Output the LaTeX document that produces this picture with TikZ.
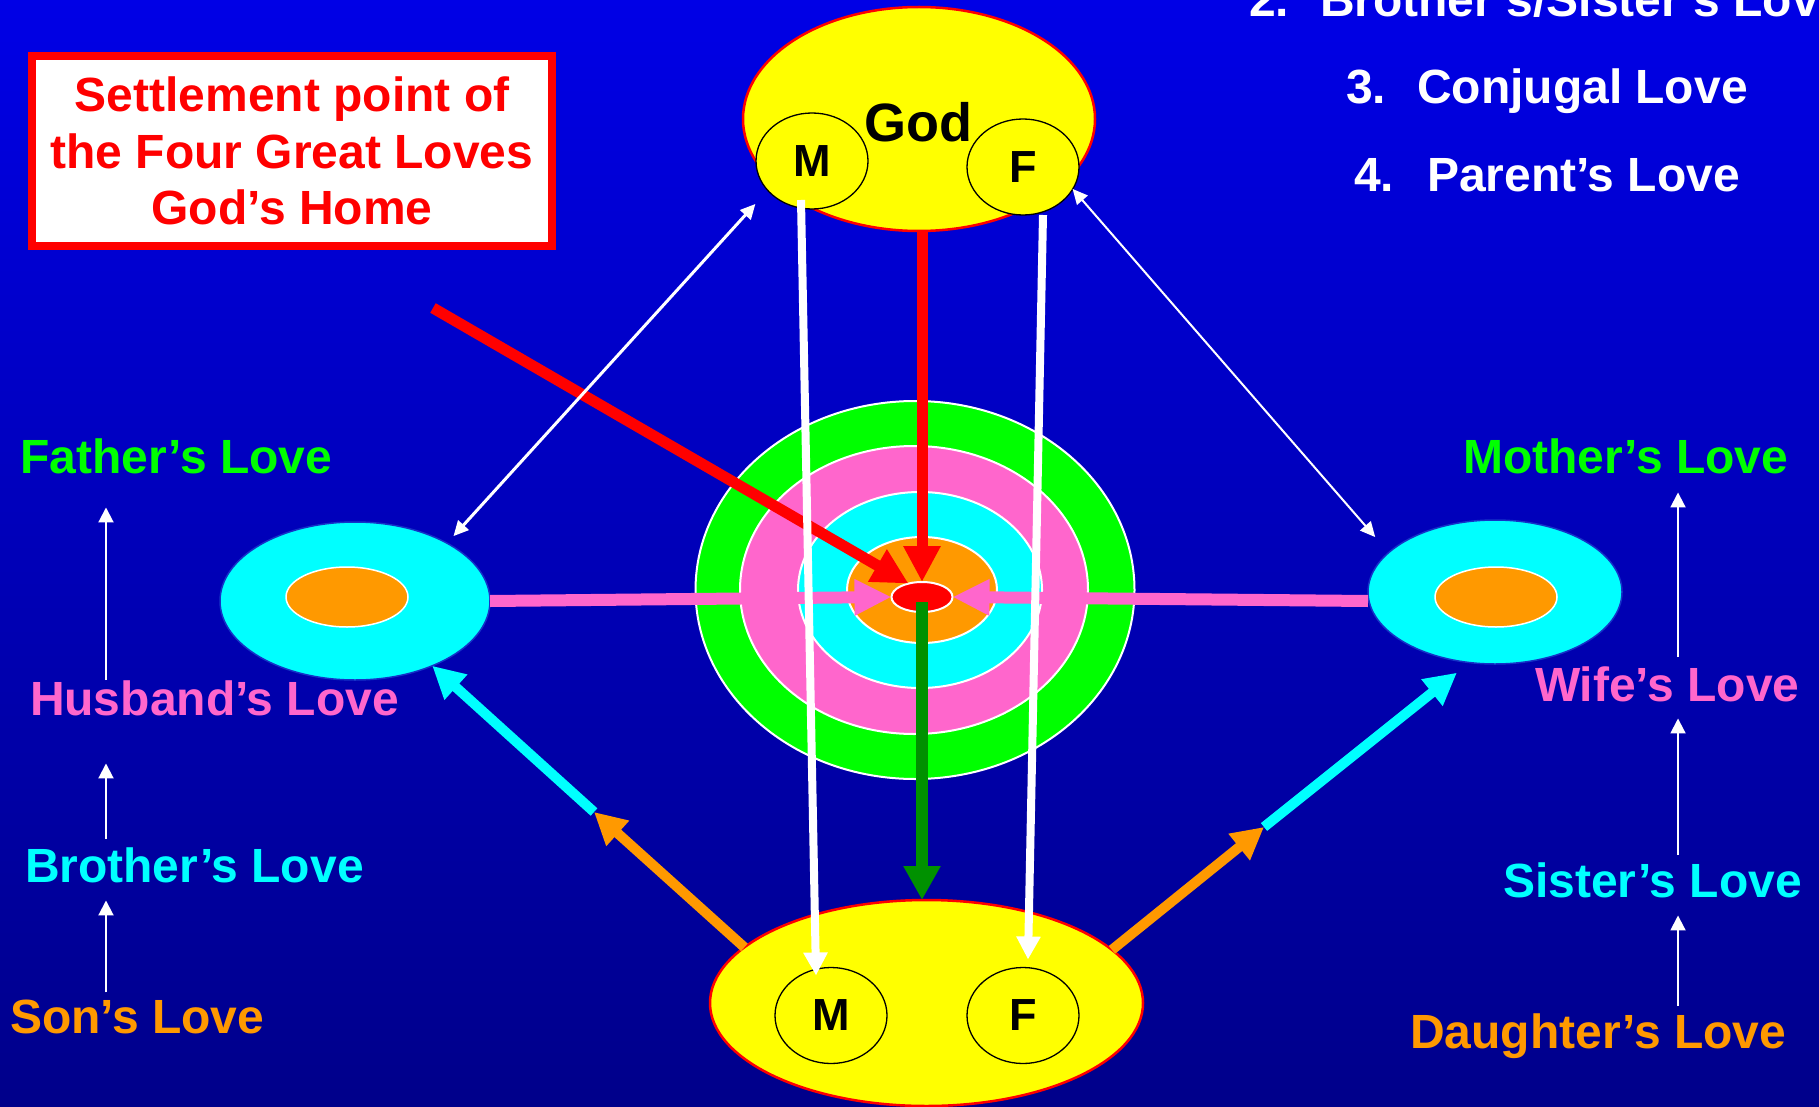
\documentclass[tikz,border=0pt]{standalone}
\usepackage{fontspec}
\setmainfont{Liberation Sans}
\usetikzlibrary{arrows.meta,shapes.geometric}
\definecolor{bgtop}{RGB}{0,0,230}
\definecolor{bgbot}{RGB}{0,0,138}
\definecolor{myyellow}{RGB}{255,255,0}
\definecolor{myred}{RGB}{255,0,0}
\definecolor{mygreen}{RGB}{0,255,0}
\definecolor{mypink}{RGB}{255,102,204}
\definecolor{mycyan}{RGB}{0,255,255}
\definecolor{myorange}{RGB}{255,153,0}
\definecolor{darkgreen}{RGB}{0,145,0}
\definecolor{ellrim}{RGB}{20,50,200}
\begin{document}
\begin{tikzpicture}[x=1pt,y=-1pt,
  every node/.style={inner sep=0pt,outer sep=0pt},
  ell/.style={ellipse,inner sep=0pt,outer sep=0pt},
  lbl/.style={anchor=base west,font=\bfseries\fontsize{48}{56}\selectfont},
  circ/.style={ell,fill=myyellow,draw=black,line width=1.3pt,minimum width=112pt,minimum height=96pt,font=\bfseries\fontsize{45}{50}\selectfont},
  redarr/.style={draw=myred,line width=11pt,-{Triangle[length=36pt,width=35pt]}},
  greenarr/.style={draw=darkgreen,line width=12pt,-{Triangle[length=34pt,width=35pt]}},
  pinkarr/.style={draw=mypink,line width=12pt,-{Triangle[length=37pt,width=34pt]}},
  whitearr/.style={draw=white,line width=8pt,-{Triangle[length=23pt,width=23pt]}},
  orangearr/.style={draw=myorange,line width=10pt,-{Triangle[length=32pt,width=32pt]}},
  cyanarr/.style={draw=mycyan,line width=10pt,-{Triangle[length=32pt,width=32pt]}},
  dblwhite/.style={draw=white,{Triangle[length=15pt,width=14pt]}-{Triangle[length=15pt,width=14pt]}},
  colarr/.style={draw=white,line width=2pt,-{Triangle[length=15pt,width=15pt]}}
]
\useasboundingbox (0,0) rectangle (1819,1107);
\shade[top color=bgtop,bottom color=bgbot] (0,0) rectangle (1819,1107);

% title box
\node[draw=myred,line width=8pt,fill=white,minimum width=520pt,minimum height=190pt,
  align=center,text=myred,font=\bfseries\fontsize{48}{56.5}\selectfont] (box) at (292,151)
  {Settlement point of\\the Four Great Loves\\God’s Home};

% top right list
\node[lbl,text=white] (n2) at (1249,17) {2.};
\node[lbl,text=white] (t2) at (1320,17) {Brother’s/Sister’s Love};
\node[lbl,text=white] (n3) at (1346,104) {3.};
\node[lbl,text=white] (t3) at (1417,104) {Conjugal Love};
\node[lbl,text=white] (n4) at (1354,192) {4.};
\node[lbl,text=white] (t4) at (1427,192) {Parent’s Love};

% target
\node[ell,fill=mygreen,draw=white,line width=2pt,minimum width=439pt,minimum height=378pt] (tgreen) at (915,590) {};
\node[ell,fill=mypink,draw=white,line width=2pt,minimum width=348pt,minimum height=288pt] (tpink) at (914,590) {};
\node[ell,fill=mycyan,draw=white,line width=2pt,minimum width=244pt,minimum height=196pt] (tcyan) at (920,590) {};
\node[ell,fill=myorange,draw=white,line width=2pt,minimum width=150pt,minimum height=106pt] (torange) at (922,590) {};

% side families
\node[ell,fill=mycyan,draw=ellrim,line width=1.5pt,minimum width=270pt,minimum height=158pt] (lcy) at (355,601) {};
\node[ell,fill=myorange,draw=white,line width=1.5pt,minimum width=122pt,minimum height=60pt] (lor) at (347,597) {};
\node[ell,fill=mycyan,draw=ellrim,line width=1.5pt,minimum width=254pt,minimum height=144pt] (rcy) at (1495,592) {};
\node[ell,fill=myorange,draw=white,line width=1.5pt,minimum width=122pt,minimum height=60pt] (ror) at (1496,597) {};

% bottom family
\node[ell,fill=myyellow,draw=myred,line width=2.5pt,minimum width=433pt,minimum height=206pt] (bot) at (926.5,1003) {};
\node[circ] (bM) at (831,1015.5) {M};
\node[circ] (bF) at (1023,1015.5) {F};

% God
\node[ell,fill=myyellow,draw=myred,line width=2.5pt,minimum width=352pt,minimum height=224pt] (god) at (919,119) {};
\node[anchor=base,font=\bfseries\fontsize{54}{60}\selectfont] (godtxt) at (918,142) {God};
\node[circ] (gM) at (812,161) {M};
\node[circ] (gF) at (1023,167) {F};

% centre and pink arrows
\node[ell,fill=myred,draw=white,line width=2pt,minimum width=61pt,minimum height=30pt] (tred) at (922,597) {};
\draw[pinkarr] (lcy.east) -- (tred.west);
\draw[pinkarr] ([yshift=-9pt]rcy.west) -- (tred.east);

% red arrows
\coordinate (rstart) at (433,308);
\draw[redarr] (rstart) -- (tred.135);
\draw[redarr] (god.south -| tred.north) -- (tred.north);

% green arrow
\draw[greenarr] ([yshift=10pt]tred.south) -- (bot.north -| tred.south);

% orange / cyan arrows
\coordinate (lmid) at (594,812);
\coordinate (rmid) at (1264,827);
\draw[orangearr] (bot.163) -- (lmid);
\draw[cyanarr] (lmid) -- (lcy.320);
\draw[orangearr] (bot.16) -- (rmid);
\draw[cyanarr] (rmid) -- ([yshift=-12pt]rcy.241);

% white vertical arrows
\draw[whitearr] ([xshift=-11pt,yshift=9pt]gM.south) -- ([xshift=-15pt,yshift=-8pt]bM.north);
\draw[whitearr] ([xshift=20pt]gF.south) -- ([xshift=5pt,yshift=8pt]bF.north);

% thin double arrows
\draw[dblwhite,line width=3pt] ([xshift=-17pt,yshift=-9pt]gM.south west) -- ([xshift=3pt,yshift=9pt]lcy.north east);
\draw[dblwhite,line width=2pt] ([xshift=10pt,yshift=12pt]gF.south east) -- ([xshift=-30pt,yshift=4pt]rcy.north west);

% left column
\node[lbl,text=mygreen] (father) at (20,473) {Father’s Love};
\node[lbl,text=mypink] (husband) at (30,715) {Husband’s Love};
\node[lbl,text=mycyan] (brother) at (25,882) {Brother’s Love};
\node[lbl,text=myorange] (son) at (10,1033) {Son’s Love};
\coordinate (lcol) at (106,0);
\draw[colarr,shorten >=34pt] (husband.north -| lcol) -- (father.south -| lcol);
\draw[colarr,shorten <=8pt,shorten >=48pt] (brother.north -| lcol) -- (husband.south -| lcol);
\draw[colarr,shorten <=7pt,shorten >=18pt] (son.north -| lcol) -- (brother.south -| lcol);

% right column
\node[lbl,text=mygreen] (mother) at (1463,473) {Mother’s Love};
\node[lbl,text=mypink] (wife) at (1535,701) {Wife’s Love};
\node[lbl,text=mycyan] (sister) at (1503,897) {Sister’s Love};
\node[lbl,text=myorange] (daughter) at (1410,1048) {Daughter’s Love};
\coordinate (rcol) at (1678,0);
\draw[colarr,shorten <=9pt,shorten >=19pt] (wife.north -| rcol) -- (mother.south -| rcol);
\draw[colarr,shorten <=7pt,shorten >=17pt] (sister.north -| rcol) -- (wife.south -| rcol);
\draw[colarr,shorten <=7pt,shorten >=18pt] (daughter.north -| rcol) -- (sister.south -| rcol);
\end{tikzpicture}
\end{document}
